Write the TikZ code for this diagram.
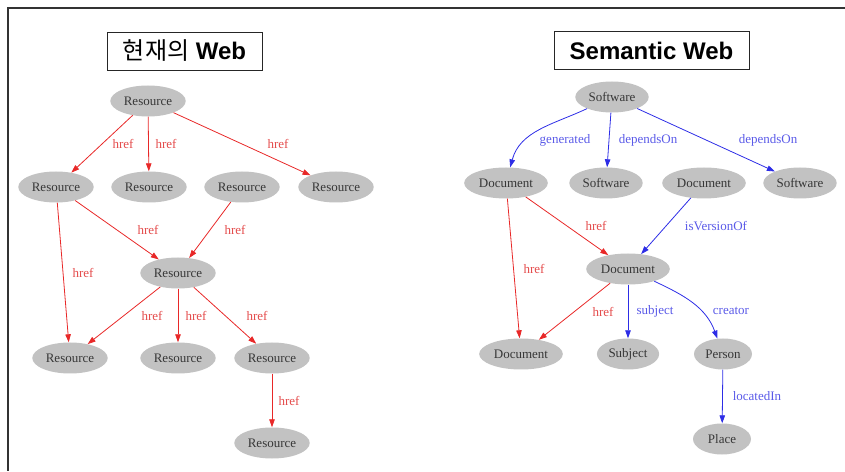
\documentclass[tikz,border=0pt]{standalone}
\usepackage{fontspec}
\setmainfont{Liberation Serif}
\newfontfamily\headfont{Liberation Sans}
\newfontfamily\hangulfont{Noto Sans CJK KR}
\usetikzlibrary{shapes.geometric, arrows.meta}

\definecolor{nodegray}{RGB}{194,194,194}
\definecolor{nodetext}{RGB}{55,55,55}
\definecolor{hrefred}{RGB}{232,40,40}
\definecolor{hreflbl}{RGB}{228,75,75}
\definecolor{relblue}{RGB}{45,45,230}
\definecolor{rellbl}{RGB}{90,90,232}

\begin{document}
\begin{tikzpicture}[x=1pt, y=1pt,
    res/.style={ellipse, fill=nodegray, text=nodetext, font=\fontsize{13}{15}\selectfont,
        inner xsep=2.5pt, minimum height=31pt, minimum width=58pt},
    title/.style={draw=black!85, line width=0.9pt, font=\headfont\fontsize{24}{28}\selectfont\bfseries,
        minimum height=38pt, inner xsep=8pt},
    redarrow/.style={draw=hrefred, line width=0.8pt, -{Triangle[length=8pt, width=5.5pt]}},
    bluearrow/.style={draw=relblue, line width=0.8pt, -{Triangle[length=8pt, width=5.5pt]}},
    redlbl/.style={text=hreflbl, font=\fontsize{13}{15}\selectfont},
    bluelbl/.style={text=rellbl, font=\fontsize{13}{15}\selectfont}
    ]

    \useasboundingbox (0,0) rectangle (845,471);

    % Frame
    \draw[black!80, line width=1.4pt] (845,463) -- (8,463) -- (8,0);

    % Titles
    \node[title, minimum width=155pt] (titleL) at (184.5,420) {{\hangulfont\mdseries 현재의} Web};
    \node[title, minimum width=195pt] (titleR) at (651.5,420.5) {Semantic Web};

    % Current web
    \node[res] (r1) at (148,370) {Resource};
    \node[res] (r2) at (56,284) {Resource};
    \node[res] (r3) at (149,284) {Resource};
    \node[res] (r4) at (242,284) {Resource};
    \node[res] (r5) at (336,284) {Resource};
    \node[res] (r6) at (178,198) {Resource};
    \node[res] (r7) at (70,113) {Resource};
    \node[res] (r8) at (178,113) {Resource};
    \node[res] (r9) at (272,113) {Resource};
    \node[res] (r10) at (272,28) {Resource};

    \foreach \a/\b/\s in {r1/r2/21, r1/r3/17.5, r1/r5/36, r2/r7/20, r2/r6/31,
                          r4/r6/25, r6/r7/28, r6/r8/18, r6/r9/32, r9/r10/17}
    \draw[redarrow] (\a) -- node[redlbl, xshift=\s] {href} (\b);

    % Semantic web
    \node[res] (sw1) at (612,374) {Software};
    \node[res] (doc1) at (506,288) {Document};
    \node[res] (sw2) at (606,288) {Software};
    \node[res] (doc2) at (704,288) {Document};
    \node[res] (sw3) at (800,288) {Software};
    \node[res] (doc3) at (628,202) {Document};
    \node[res] (doc4) at (521,117) {Document};
    \node[res] (subj) at (628,117) {Subject};
    \node[res] (pers) at (723,117) {Person};
    \node[res] (place) at (722,32) {Place};

    \draw[bluearrow] (sw1) to[out=205, in=75] (doc1);
    \node[bluelbl] (genlbl) at (565,331) {generated};
    \draw[bluearrow] (doc3) to[out=-25, in=110] (pers);
    \node[bluelbl] (crelbl) at (731,160) {creator};

    \foreach \a/\b/\s/\t in {sw1/sw2/39/dependsOn, sw1/sw3/62/dependsOn, doc2/doc3/50/isVersionOf,
                             doc3/subj/27/subject, pers/place/34.5/locatedIn}
    \draw[bluearrow] (\a) -- node[bluelbl, xshift=\s] {\t} (\b);

    \foreach \a/\b/\s in {doc1/doc3/29, doc1/doc4/20.5, doc3/doc4/28.5}
    \draw[redarrow] (\a) -- node[redlbl, xshift=\s] {href} (\b);

\end{tikzpicture}
\end{document}
